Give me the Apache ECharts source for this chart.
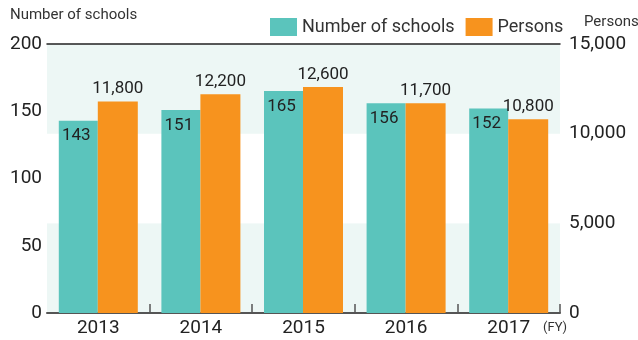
<!DOCTYPE html>
<html>
<head>
<meta charset="utf-8">
<script src="https://cdn.jsdelivr.net/npm/echarts@6/dist/echarts.min.js"></script>
<style>
  html, body { margin: 0; padding: 0; background: #fff; }
  #chart { width: 638px; height: 340px; }
</style>
</head>
<body>
<div id="chart"></div>
<script>
// Fiscal years on the category axis
var years = ['2013', '2014', '2015', '2016', '2017'];
// Number of schools (left axis)
var schools = [143, 151, 165, 156, 152];
// Persons (right axis)
var persons = [11800, 12200, 12600, 11700, 10800];

var FONT = 'Roboto, "Noto Sans", sans-serif';
var TEXT = '#222';

function comma(v) {
  return String(v).replace(/\B(?=(\d{3})+(?!\d))/g, ',');
}

var chart = echarts.init(document.getElementById('chart'));
chart.setOption({
  animation: false,
  textStyle: { fontFamily: FONT },
  grid: { left: 47, right: 78, top: 44, bottom: 27, outerBoundsMode: 'none', containLabel: false },
  legend: {
    left: 265, top: 13,
    itemWidth: 27, itemHeight: 18, itemGap: 11,
    icon: 'rect',
    textStyle: { fontSize: 18, color: '#333', fontFamily: FONT },
    data: ['Number of schools', 'Persons']
  },
  xAxis: [{
    type: 'category',
    data: years,
    axisLine: { lineStyle: { color: '#555', width: 2 } },
    axisTick: {
      show: true, inside: true, length: 9,
      interval: function (i) { return i !== 0; },
      lineStyle: { color: '#555', width: 1.5 }
    },
    axisLabel: { fontSize: 19, color: TEXT, margin: 6, fontFamily: FONT }
  }, {
    // solid rule along the top of the plot
    type: 'category',
    position: 'top',
    data: years,
    axisLine: { onZero: false, lineStyle: { color: '#222', width: 1.5 } },
    axisTick: { show: false },
    axisLabel: { show: false }
  }],
  yAxis: [{
    type: 'value',
    min: 0, max: 200, interval: 50,
    name: 'Number of schools',
    nameLocation: 'end',
    nameGap: 29,
    nameTextStyle: { align: 'left', verticalAlign: 'middle', fontSize: 15, color: '#333', padding: [0, 0, 0, -37] },
    axisLine: { show: false },
    axisTick: { show: false },
    axisLabel: { fontSize: 19, color: TEXT, margin: 5, fontFamily: FONT },
    splitLine: { show: true, lineStyle: { color: '#aaa', type: [2, 3], width: 1 } }
  }, {
    type: 'value',
    min: 0, max: 15000, interval: 5000,
    name: 'Persons',
    nameLocation: 'end',
    nameGap: 22,
    nameTextStyle: { align: 'left', verticalAlign: 'middle', fontSize: 15, color: '#333', padding: [0, 0, 0, 24] },
    axisLine: { show: false },
    axisTick: { show: false },
    axisLabel: { fontSize: 19, color: TEXT, margin: 9, fontFamily: FONT, formatter: comma },
    splitLine: { show: false },
    splitArea: { show: true, areaStyle: { color: ['#edf7f5', '#ffffff'] } }
  }],
  series: [{
    name: 'Number of schools',
    type: 'bar',
    yAxisIndex: 0,
    data: schools,
    barWidth: 39,
    barGap: '0%',
    itemStyle: { color: '#5bc4bc' },
    label: {
      show: true, position: 'insideTop', distance: 7, offset: [-2, 0],
      fontSize: 17, color: TEXT, fontFamily: FONT
    },
    z: 3
  }, {
    name: 'Persons',
    type: 'bar',
    yAxisIndex: 1,
    data: persons,
    barWidth: 40,
    itemStyle: { color: '#f7931e' },
    label: {
      show: true, position: 'top', distance: 4,
      fontSize: 17, color: TEXT, fontFamily: FONT,
      formatter: function (p) { return comma(p.value); }
    },
    z: 3
  }],
  graphic: [{
    type: 'text',
    left: 543, top: 321,
    style: { text: '(FY)', fontSize: 13, fill: '#333', fontFamily: FONT }
  }]
});
</script>
</body>
</html>
